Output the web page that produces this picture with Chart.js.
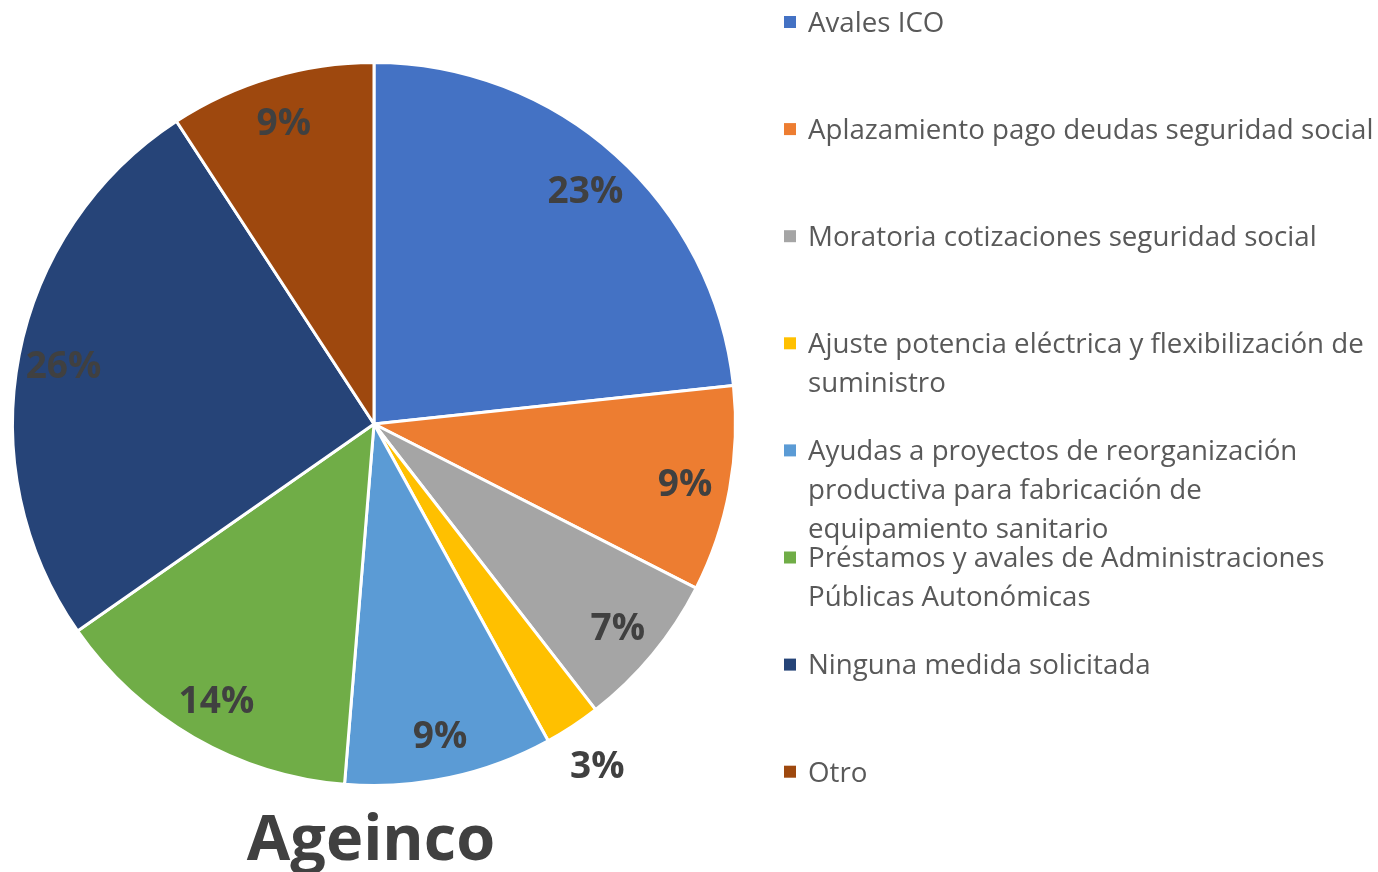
<!DOCTYPE html>
<html>
<head>
<meta charset="utf-8">
<script src="https://cdn.jsdelivr.net/npm/chart.js@4.4.1/dist/chart.umd.min.js"></script>
<style>
  body { margin: 0; background: #fff; }
  #wrap { width: 1378px; height: 872px; position: relative; }
</style>
</head>
<body>
<div id="wrap"><canvas id="pieChart" width="1378" height="872"></canvas></div>
<script>
const chartTitle = 'Ageinco';
const categories = [
    'Avales ICO',
    'Aplazamiento pago deudas seguridad social',
    'Moratoria cotizaciones seguridad social',
    'Ajuste potencia eléctrica y flexibilización de suministro',
    'Ayudas a proyectos de reorganización productiva para fabricación de equipamiento sanitario',
    'Préstamos y avales de Administraciones Públicas Autonómicas',
    'Ninguna medida solicitada',
    'Otro'
];
const shares = [23.3, 9.2, 7.0, 2.5, 9.3, 14.0, 25.5, 9.2];
const colors = ['#4472C4', '#ED7D31', '#A5A5A5', '#FFC000', '#5B9BD5', '#70AD47', '#264478', '#9E480E'];

function wrapText(ctx, text, maxWidth) {
    const words = text.split(' ');
    const lines = [];
    let line = '';
    for (const w of words) {
        const test = line ? line + ' ' + w : w;
        if (ctx.measureText(test).width > maxWidth && line) {
            lines.push(line);
            line = w;
        } else {
            line = test;
        }
    }
    lines.push(line);
    return lines;
}

const extras = {
    id: 'extras',
    afterDraw(chart) {
        const ctx = chart.ctx;
        const meta = chart.getDatasetMeta(0);
        const values = chart.data.datasets[0].data;

        // percentage labels
        ctx.save();
        ctx.font = 'bold 37px "Open Sans"';
        ctx.fillStyle = '#404040';
        ctx.textAlign = 'center';
        ctx.textBaseline = 'middle';
        meta.data.forEach((arc, i) => {
            const p = arc.getProps(['x', 'y', 'startAngle', 'endAngle', 'outerRadius'], true);
            const mid = (p.startAngle + p.endAngle) / 2;
            const r = p.outerRadius * (values[i] < 5 ? 1.125 : 0.875);
            ctx.fillText(Math.round(values[i]) + '%', p.x + Math.cos(mid) * r, p.y + Math.sin(mid) * r + 4);
        });
        ctx.restore();

        // legend
        ctx.save();
        ctx.font = '27.7px "Open Sans"';
        ctx.textBaseline = 'middle';
        ctx.textAlign = 'left';
        chart.data.labels.forEach((label, i) => {
            const y = 22 + i * 107.1;
            ctx.fillStyle = colors[i];
            ctx.fillRect(784, y - 6, 12, 12);
            ctx.fillStyle = '#595959';
            const lines = wrapText(ctx, label, 566);
            lines.forEach((ln, k) => ctx.fillText(ln, 808, y + 2 + k * 39));
        });
        ctx.restore();

        // title
        ctx.save();
        ctx.font = 'bold 63px "Open Sans"';
        ctx.fillStyle = '#404040';
        ctx.textAlign = 'center';
        ctx.textBaseline = 'alphabetic';
        ctx.fillText(chartTitle, 371, 860);
        ctx.restore();
    }
};

new Chart(document.getElementById('pieChart'), {
    type: 'pie',
    data: {
        labels: categories,
        datasets: [{
            data: shares,
            backgroundColor: colors,
            borderColor: '#ffffff',
            borderWidth: 3
        }]
    },
    options: {
        responsive: false,
        animation: false,
        layout: {
            padding: { left: 11, top: 61, right: 641, bottom: 85 }
        },
        plugins: {
            legend: { display: false },
            tooltip: { enabled: false }
        }
    },
    plugins: [extras]
});
</script>
</body>
</html>
